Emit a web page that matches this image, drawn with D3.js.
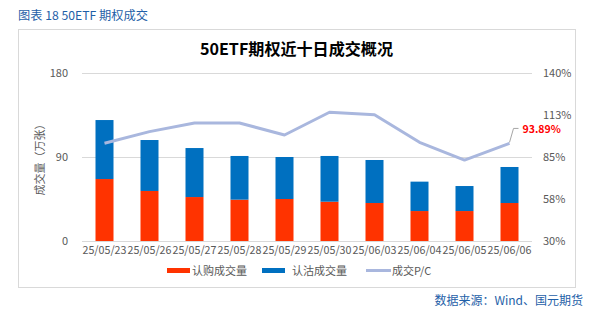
<!DOCTYPE html>
<html><head><meta charset="utf-8">
<script src="https://cdn.jsdelivr.net/npm/d3@7"></script>
<style>body{margin:0;background:#fff;}svg{display:block;font-family:"Noto Sans CJK SC","Liberation Sans",sans-serif;}</style>
</head><body>
<svg id="c" width="611" height="328"></svg>
<script>
const categories = ["25/05/23","25/05/26","25/05/27","25/05/28","25/05/29","25/05/30","25/06/03","25/06/04","25/06/05","25/06/06"];
const callVol = [66.4, 53.6, 47.1, 44.3, 45.0, 42.1, 40.7, 32.1, 32.1, 40.7];
const putVol  = [63.2, 54.6, 52.5, 46.8, 45.0, 49.0, 46.1, 31.5, 26.8, 38.6];
const pcRatio = [94.0, 101.6, 107.3, 107.3, 99.4, 114.3, 112.7, 94.6, 83.0, 93.89];
const leftTicks = [0, 90, 180];
const rightTicks = [30, 57.5, 85, 112.5, 140];
const seriesNames = ["认购成交量", "认沽成交量", "成交P/C"];

const svg = d3.select("#c");
const colors = {call:"#ff3300", put:"#0070c0", line:"#a9b7de"};

// outer texts
svg.append("text").attr("x",18).attr("y",20).attr("font-size",12).attr("fill","#1f5fa8")
  .attr("textLength",130).attr("lengthAdjust","spacingAndGlyphs").text("图表 18  50ETF 期权成交");
svg.append("rect").attr("x",18.5).attr("y",29.5).attr("width",557).attr("height",258).attr("fill","none").attr("stroke","#d9d9d9");
svg.append("text").attr("x",296.5).attr("y",55).attr("text-anchor","middle").attr("font-size",16).attr("font-weight","bold").attr("fill","#000")
  .attr("textLength",193).attr("lengthAdjust","spacingAndGlyphs").text("50ETF期权近十日成交概况");
svg.append("text").attr("x",583).attr("y",305).attr("text-anchor","end").attr("font-size",12).attr("fill","#1f5fa8").text("数据来源：Wind、国元期货");

const x0 = 82, x1 = 532, yTop = 73, yBot = 241;
const x = d3.scaleBand().domain(categories).range([x0,x1]).paddingInner(0.6).paddingOuter(0.3);
const yL = d3.scaleLinear().domain([0,180]).range([yBot,yTop]);
const yR = d3.scaleLinear().domain([30,140]).range([yBot,yTop]);

// gridlines
svg.append("g").selectAll("line").data(leftTicks).join("line")
  .attr("x1",x0).attr("x2",x1).attr("y1",d=>Math.round(yL(d))+0.5).attr("y2",d=>Math.round(yL(d))+0.5)
  .attr("stroke","#d9d9d9").attr("stroke-width",1);

// left axis labels
svg.append("g").selectAll("text").data(leftTicks).join("text")
  .attr("x",68).attr("y",d=>yL(d)+4).attr("text-anchor","end").attr("font-size",11).attr("fill","#595959").text(d=>d);
// right axis labels
svg.append("g").selectAll("text").data(rightTicks).join("text")
  .attr("x",543).attr("y",d=>yR(d)+4).attr("text-anchor","start").attr("font-size",11).attr("fill","#595959").text(d=>Math.round(d)+"%");

// y title
svg.append("text").attr("transform",`translate(44,${(yTop+yBot)/2}) rotate(-90)`).attr("text-anchor","middle")
  .attr("font-size",11).attr("fill","#595959").text("成交量（万张）");

// bars
const g = svg.append("g");
g.selectAll("rect.call").data(categories).join("rect").attr("class","call")
  .attr("x",d=>x(d)).attr("width",x.bandwidth())
  .attr("y",(d,i)=>yL(callVol[i])).attr("height",(d,i)=>yBot-yL(callVol[i])).attr("fill",colors.call);
g.selectAll("rect.put").data(categories).join("rect").attr("class","put")
  .attr("x",d=>x(d)).attr("width",x.bandwidth())
  .attr("y",(d,i)=>yL(callVol[i]+putVol[i])).attr("height",(d,i)=>yL(callVol[i])-yL(callVol[i]+putVol[i])).attr("fill",colors.put);

// line
const line = d3.line().x((d,i)=>x(categories[i])+x.bandwidth()/2).y(d=>yR(d));
svg.append("path").datum(pcRatio).attr("d",line).attr("fill","none").attr("stroke",colors.line).attr("stroke-width",3).attr("stroke-linejoin","round");

// x labels
svg.append("g").selectAll("text").data(categories).join("text")
  .attr("x",d=>x(d)+x.bandwidth()/2).attr("y",254).attr("text-anchor","middle").attr("font-size",11).attr("fill","#595959")
  .attr("textLength",44).attr("lengthAdjust","spacingAndGlyphs").text(d=>d);

// annotation
const lastI = pcRatio.length-1;
const lx = x(categories[lastI])+x.bandwidth()/2, ly = yR(pcRatio[lastI]);
svg.append("path").attr("d",`M${lx},${ly-1} L${lx+4},${ly-15} L${lx+9},${ly-15}`).attr("fill","none").attr("stroke","#a6a6a6").attr("stroke-width",1);
svg.append("text").attr("x",lx+13).attr("y",ly-10).attr("font-size",10.5).attr("font-weight","bold").attr("fill","#ff0000").text(pcRatio[lastI].toFixed(2)+"%");

// legend
const leg = svg.append("g");
const legItems = [
  {name:seriesNames[0], color:colors.call, sx:167, tx:192},
  {name:seriesNames[1], color:colors.put, sx:262, tx:292},
  {name:seriesNames[2], color:colors.line, sx:366, tx:392}
];
legItems.forEach((it,i)=>{
  if(i<2) leg.append("rect").attr("x",it.sx).attr("y",268).attr("width",23).attr("height",5).attr("fill",it.color);
  else leg.append("line").attr("x1",it.sx).attr("x2",it.sx+25).attr("y1",270.5).attr("y2",270.5).attr("stroke",it.color).attr("stroke-width",3);
  leg.append("text").attr("x",it.tx).attr("y",275).attr("font-size",11).attr("fill","#595959").text(it.name);
});
</script>
</body></html>
